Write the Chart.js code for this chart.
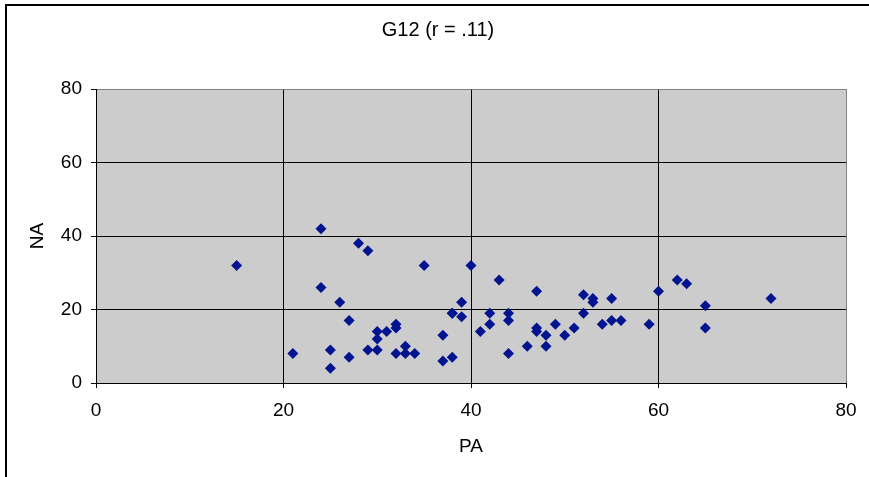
<!DOCTYPE html>
<html>
<head>
<meta charset="utf-8">
<script src="https://cdn.jsdelivr.net/npm/chart.js@4/dist/chart.umd.min.js"></script>
<style>
  html, body { margin: 0; padding: 0; background: #fff; overflow: hidden; }
  #frame { position: absolute; left: 5px; top: 4px; width: 900px; height: 500px;
           border-left: 2px solid #000; border-top: 2px solid #000; }
  #c { position: absolute; left: 0; top: 0; }
</style>
</head>
<body>
<div id="frame"></div>
<canvas id="c" width="869" height="477"></canvas>
<script>
// Data (PA on x, NA on y)
const titleText = "G12 (r = .11)";
const xTitle = "PA";
const yTitle = "NA";
const tickValues = [0, 20, 40, 60, 80];
const paValues = [15, 21, 24, 24, 25, 25, 26, 27, 27, 28, 29, 29, 30, 30, 30, 31, 32, 32, 32, 33, 33, 34, 35, 37, 37, 38, 38, 38, 39, 39, 40, 41, 42, 42, 43, 44, 44, 44, 46, 47, 47, 47, 48, 48, 49, 50, 51, 52, 52, 53, 53, 54, 55, 55, 56, 59, 60, 62, 63, 65, 65, 72];
const naValues = [32, 8, 42, 26, 9, 4, 22, 17, 7, 38, 36, 9, 14, 12, 9, 14, 16, 15, 8, 10, 8, 8, 32, 13, 6, 19, 7, 19, 22, 18, 32, 14, 19, 16, 28, 19, 17, 8, 10, 25, 15, 14, 13, 10, 16, 13, 15, 24, 19, 23, 22, 16, 23, 17, 17, 16, 25, 28, 27, 21, 15, 23];

const points = paValues.map((x, i) => ({ x: x, y: naValues[i] }));

const FONT = "'Liberation Sans', Arial, sans-serif";
const FS = 19;

const plotBg = {
  id: 'plotBg',
  beforeDraw(chart) {
    const { ctx, chartArea: a } = chart;
    ctx.save();
    ctx.fillStyle = '#cccccc';
    ctx.fillRect(a.left, a.top, a.right - a.left, a.bottom - a.top);
    ctx.restore();
  }
};

const gridColor = (c) => (c.tick && c.tick.value === 80) ? '#808080' : '#000000';

new Chart(document.getElementById('c'), {
  type: 'scatter',
  data: {
    datasets: [{
      data: points,
      pointStyle: 'rectRot',
      pointRadius: 5.5,
      pointHoverRadius: 5.5,
      backgroundColor: '#00148f',
      borderColor: '#00148f',
      borderWidth: 0
    }]
  },
  options: {
    responsive: false,
    animation: false,
    devicePixelRatio: 1,
    layout: { padding: { left: 30, right: 23, top: 10, bottom: 0 } },
    plugins: {
      legend: { display: false },
      tooltip: { enabled: false },
      title: {
        display: true,
        text: titleText,
        color: '#000',
        font: { family: FONT, size: 20, weight: 'normal' },
        padding: { top: 8, bottom: 47 }
      }
    },
    scales: {
      x: {
        type: 'linear',
        min: 0, max: 80,
        afterBuildTicks: (s) => { s.ticks = tickValues.map(v => ({ value: v })); },
        afterFit: (s) => { s.height = 94; },
        ticks: { color: '#000', font: { family: FONT, size: FS }, padding: 11, maxRotation: 0 },
        grid: { color: gridColor, tickColor: '#000', tickLength: 5, lineWidth: 1 },
        border: { color: '#000', width: 1 },
        title: { display: true, text: xTitle, color: '#000', font: { family: FONT, size: FS }, padding: { top: 0, bottom: 19 } }
      },
      y: {
        type: 'linear',
        min: 0, max: 80,
        afterBuildTicks: (s) => { s.ticks = tickValues.map(v => ({ value: v })); },
        afterFit: (s) => { s.width = 66; },
        ticks: { color: '#000', font: { family: FONT, size: FS }, padding: 9 },
        grid: { color: gridColor, tickColor: '#000', tickLength: 5, lineWidth: 1 },
        border: { color: '#000', width: 1 },
        title: { display: true, text: yTitle, color: '#000', font: { family: FONT, size: FS }, padding: { top: -4, bottom: 0 } }
      }
    }
  },
  plugins: [plotBg]
});
</script>
</body>
</html>
